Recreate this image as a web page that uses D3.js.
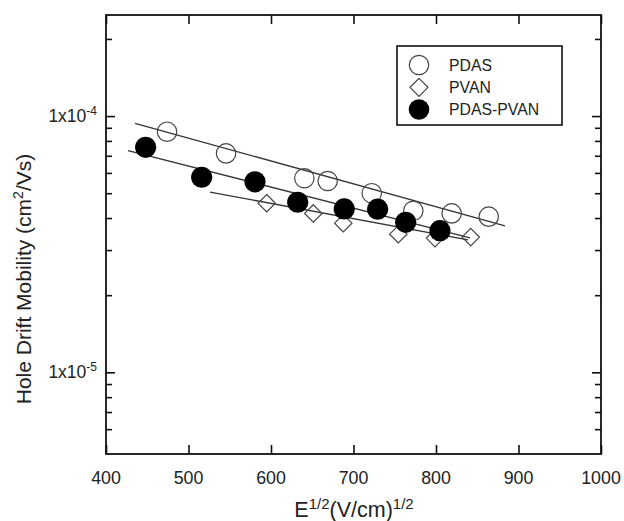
<!DOCTYPE html>
<html>
<head>
<meta charset="utf-8">
<script src="https://cdn.jsdelivr.net/npm/d3@7/dist/d3.min.js"></script>
<style>
  html, body { margin: 0; padding: 0; background: #fff; }
  svg { display: block; font-family: "Liberation Sans", Arial, sans-serif; }
</style>
</head>
<body>
<svg id="chart" width="624" height="521"></svg>
<script>
// ---- data ----
const seriesNames = ["PDAS", "PVAN", "PDAS-PVAN"];

const pdasX = [474, 545.5, 640.4, 668.7, 722.1, 772.5, 819.0, 863.9];
const pdasY = [8.69e-5, 7.15e-5, 5.72e-5, 5.58e-5, 5.0e-5, 4.27e-5, 4.17e-5, 4.05e-5];

const pvanX = [594.8, 651.3, 687.6, 754.3, 798.8, 842.1];
const pvanY = [4.57e-5, 4.17e-5, 3.82e-5, 3.46e-5, 3.34e-5, 3.37e-5];

const blendX = [448.1, 516.0, 580.6, 632.4, 688.8, 729.3, 763.3, 804.8];
const blendY = [7.55e-5, 5.77e-5, 5.54e-5, 4.61e-5, 4.34e-5, 4.33e-5, 3.85e-5, 3.57e-5];

// fitted lines (endpoints)
const pdasFitX = [435.2, 883.6];
const pdasFitY = [9.37e-5, 3.73e-5];
const blendFitX = [426.7, 841.2];
const blendFitY = [7.33e-5, 3.35e-5];
const pvanFitX = [526.1, 838.8];
const pvanFitY = [5.05e-5, 3.29e-5];

const xTicks = [400, 500, 600, 700, 800, 900, 1000];
const yMajorTicks = [1e-5, 1e-4];
const yMajorLabels = [["1x10", "-5"], ["1x10", "-4"]];
const yMinorTicks = [6e-6, 7e-6, 8e-6, 9e-6, 2e-5, 3e-5, 4e-5, 5e-5, 6e-5, 7e-5, 8e-5, 9e-5, 2e-4];

const xDomain = [400, 1000];
const yDomain = [4.8e-6, 2.48e-4];

// ---- layout ----
const L = 106, R = 601, T = 15, B = 454;
const svg = d3.select("#chart");

const x = d3.scaleLinear().domain(xDomain).range([L, R]);
const y = d3.scaleLog().domain(yDomain).range([B, T]);

const ink = "#111";

// axes with inward ticks
const xBottom = d3.axisBottom(x).tickValues(xTicks).tickSize(-9).tickFormat("");
const xTop = d3.axisTop(x).tickValues(xTicks).tickSize(-9).tickFormat("");
const yLeftMajor = d3.axisLeft(y).tickValues(yMajorTicks).tickSize(-9).tickFormat("");
const yLeftMinor = d3.axisLeft(y).tickValues(yMinorTicks).tickSize(-6).tickFormat("");
const yRightMajor = d3.axisRight(y).tickValues(yMajorTicks).tickSize(-9).tickFormat("");
const yRightMinor = d3.axisRight(y).tickValues(yMinorTicks).tickSize(-6).tickFormat("");

function styleAxis(g) {
  g.select(".domain").remove();
  g.selectAll(".tick line").attr("stroke", ink).attr("stroke-width", 1.6);
}
svg.append("g").attr("transform", `translate(0,${B})`).call(xBottom).call(styleAxis);
svg.append("g").attr("transform", `translate(0,${T})`).call(xTop).call(styleAxis);
svg.append("g").attr("transform", `translate(${L},0)`).call(yLeftMajor).call(styleAxis);
svg.append("g").attr("transform", `translate(${L},0)`).call(yLeftMinor).call(styleAxis);
svg.append("g").attr("transform", `translate(${R},0)`).call(yRightMajor).call(styleAxis);
svg.append("g").attr("transform", `translate(${R},0)`).call(yRightMinor).call(styleAxis);

// frame
svg.append("rect").attr("x", L).attr("y", T).attr("width", R - L).attr("height", B - T)
  .attr("fill", "none").attr("stroke", ink).attr("stroke-width", 1.8);

// x tick labels
svg.append("g").selectAll("text").data(xTicks).join("text")
  .attr("x", d => x(d)).attr("y", 484)
  .attr("text-anchor", "middle").attr("font-size", 17.8).attr("fill", "#222")
  .text(d => d);

// y tick labels
const yl = svg.append("g").selectAll("text").data(yMajorTicks).join("text")
  .attr("x", 97).attr("y", d => y(d) + 6)
  .attr("text-anchor", "end").attr("font-size", 17.5).attr("fill", "#222");
yl.append("tspan").text((d, i) => yMajorLabels[i][0]);
yl.append("tspan").attr("dy", -7).attr("font-size", 12).text((d, i) => yMajorLabels[i][1]);

// axis titles
const xt = svg.append("text").attr("x", 354).attr("y", 517).attr("text-anchor", "middle")
  .attr("font-size", 21.5).attr("fill", "#222");
xt.append("tspan").text("E");
xt.append("tspan").attr("dy", -8).attr("font-size", 15).text("1/2");
xt.append("tspan").attr("dy", 8).text("(V/cm)");
xt.append("tspan").attr("dy", -8).attr("font-size", 15).text("1/2");

const yt = svg.append("text").attr("transform", "translate(31,279) rotate(-90)")
  .attr("text-anchor", "middle").attr("font-size", 21).attr("fill", "#222");
yt.append("tspan").text("Hole Drift Mobility (cm");
yt.append("tspan").attr("dy", -8).attr("font-size", 14).text("2");
yt.append("tspan").attr("dy", 8).text("/Vs)");

// fit lines
const lineGen = d3.line().x(d => x(d[0])).y(d => y(d[1]));
const fits = [
  d3.zip(pdasFitX, pdasFitY),
  d3.zip(blendFitX, blendFitY),
  d3.zip(pvanFitX, pvanFitY)
];
svg.append("g").selectAll("path").data(fits).join("path")
  .attr("d", lineGen).attr("fill", "none").attr("stroke", "#333").attr("stroke-width", 1.3);

// markers
const circleR = 9.7;
function diamondPath(cx, cy, h) {
  return `M${cx},${cy - h}L${cx + h},${cy}L${cx},${cy + h}L${cx - h},${cy}Z`;
}

svg.append("g").selectAll("circle").data(d3.zip(pdasX, pdasY)).join("circle")
  .attr("cx", d => x(d[0])).attr("cy", d => y(d[1])).attr("r", circleR)
  .attr("fill", "none").attr("stroke", "#444").attr("stroke-width", 1.2);

svg.append("g").selectAll("path").data(d3.zip(pvanX, pvanY)).join("path")
  .attr("d", d => diamondPath(x(d[0]), y(d[1]), 8.7))
  .attr("fill", "none").attr("stroke", "#444").attr("stroke-width", 1.2);

svg.append("g").selectAll("circle").data(d3.zip(blendX, blendY)).join("circle")
  .attr("cx", d => x(d[0])).attr("cy", d => y(d[1])).attr("r", 10.6)
  .attr("fill", "#000");

// legend
const lg = svg.append("g");
lg.append("rect").attr("x", 397).attr("y", 46).attr("width", 165).attr("height", 79)
  .attr("fill", "#fff").attr("stroke", ink).attr("stroke-width", 1.6);
const rowsY = [65, 87.3, 109.5];
lg.append("circle").attr("cx", 419).attr("cy", rowsY[0]).attr("r", circleR)
  .attr("fill", "none").attr("stroke", "#444").attr("stroke-width", 1.2);
lg.append("path").attr("d", diamondPath(419, rowsY[1], 9))
  .attr("fill", "none").attr("stroke", "#444").attr("stroke-width", 1.2);
lg.append("circle").attr("cx", 419).attr("cy", rowsY[2]).attr("r", 10.3).attr("fill", "#000");
lg.selectAll("text").data(seriesNames).join("text")
  .attr("x", 449).attr("y", (d, i) => rowsY[i] + 5.5)
  .attr("font-size", 15.8).attr("fill", "#222").text(d => d);
</script>
</body>
</html>
